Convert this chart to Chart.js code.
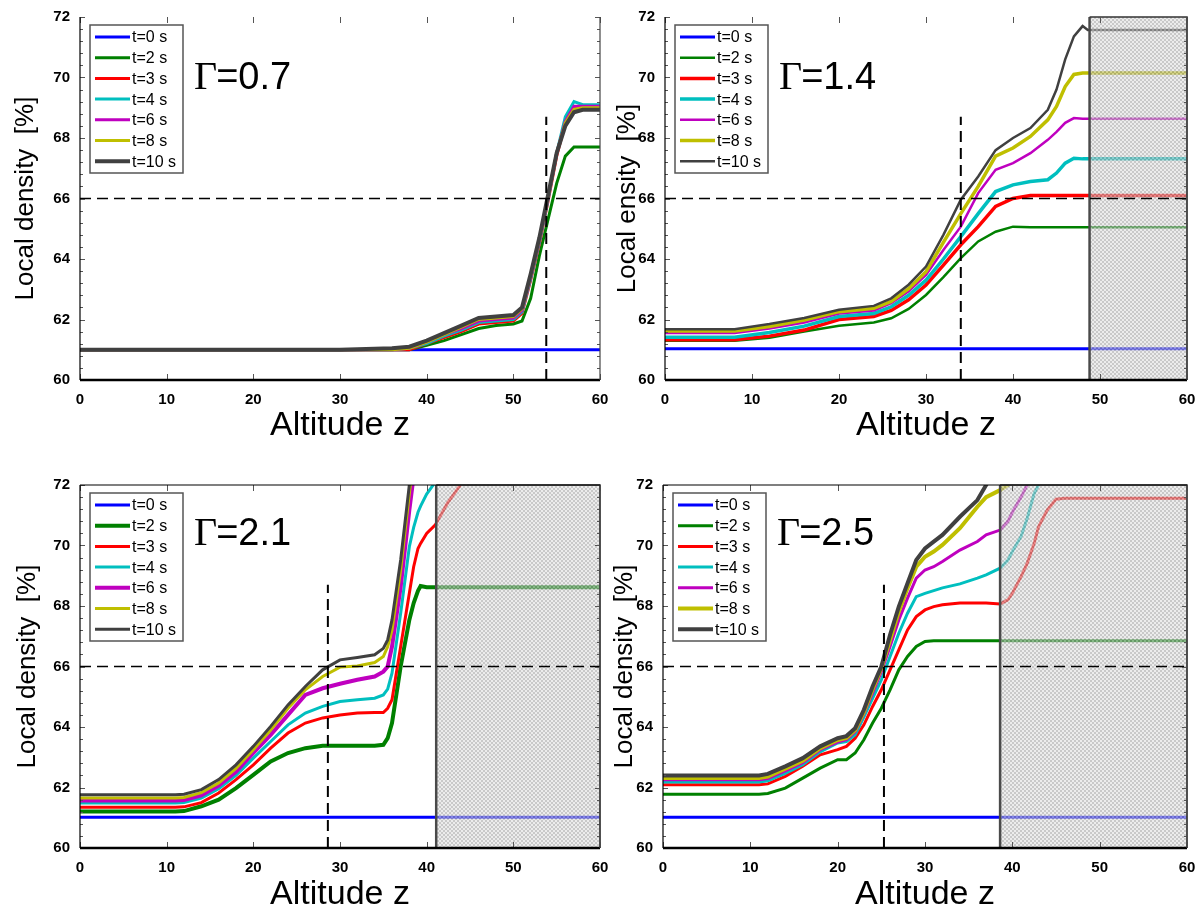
<!DOCTYPE html>
<html>
<head>
<meta charset="utf-8">
<script src="https://cdn.jsdelivr.net/npm/chart.js@4.4.0/dist/chart.umd.min.js"></script>
<style>
  body { margin: 0; background: #fff; width: 1202px; height: 915px; overflow: hidden; position: relative; }
  canvas { position: absolute; }
</style>
</head>
<body>
<canvas id="c1" width="612" height="450" style="left:0;top:0"></canvas>
<canvas id="c2" width="598" height="450" style="left:601px;top:0"></canvas>
<canvas id="c3" width="612" height="460" style="left:0;top:455px"></canvas>
<canvas id="c4" width="598" height="460" style="left:601px;top:455px"></canvas>
<script>
const seriesLabels = ['t=0 s', 't=2 s', 't=3 s', 't=4 s', 't=6 s', 't=8 s', 't=10 s'];
const seriesColors = ['#0000ff', '#008000', '#ff0000', '#00bfbf', '#bf00bf', '#bfbf00', '#404040'];
const xTicks = [0, 10, 20, 30, 40, 50, 60];
const threshold = 66;      // horizontal dashed line
const frontTop = 68.7;     // top of the vertical dashed line

// ---------- Γ=0.7 ----------
const zA = [0, 10, 20, 30, 36, 38, 40, 42, 44, 46, 48, 50, 51, 52, 53, 54, 55, 56, 57, 58, 60];
const aT0 = [61, 61, 61, 61, 61, 61, 61, 61, 61, 61, 61, 61, 61, 61, 61, 61, 61, 61, 61, 61, 61];
const aT2 = [61.0, 61.0, 61.0, 61.0, 61.0, 61.0, 61.15, 61.3, 61.5, 61.7, 61.8, 61.85, 61.95, 62.7, 64.1, 65.3, 66.5, 67.4, 67.7, 67.7, 67.7];
const aT3 = [61.0, 61.0, 61.0, 61.0, 61.0, 61.0, 61.2, 61.4, 61.6, 61.85, 61.9, 61.95, 62.2, 63.3, 64.5, 65.9, 67.4, 68.5, 69.0, 69.05, 69.05];
const aT4 = [61.0, 61.0, 61.0, 61.0, 61.0, 61.05, 61.2, 61.45, 61.65, 61.9, 61.95, 62.0, 62.25, 63.35, 64.55, 65.95, 67.5, 68.7, 69.2, 69.1, 69.1];
const aT6 = [61.0, 61.0, 61.0, 61.0, 61.0, 61.05, 61.25, 61.5, 61.7, 61.95, 62.0, 62.05, 62.3, 63.4, 64.6, 66.0, 67.5, 68.55, 69.05, 69.05, 69.05];
const aT8 = [61.0, 61.0, 61.0, 61.0, 61.0, 61.05, 61.25, 61.5, 61.75, 62.0, 62.05, 62.1, 62.35, 63.45, 64.65, 66.05, 67.5, 68.5, 68.95, 69.0, 69.0];
const aT10 = [61.0, 61.0, 61.0, 61.0, 61.05, 61.1, 61.3, 61.55, 61.8, 62.05, 62.1, 62.15, 62.4, 63.5, 64.7, 66.1, 67.5, 68.4, 68.85, 68.93, 68.93];

// ---------- Γ=1.4 ----------
const zB = [0, 8, 12, 16, 20, 24, 26, 28, 30, 32, 34, 36, 38, 40, 42, 44, 45, 46, 47, 48, 48.6, 60];
const bT0 = [61.03, 61.03, 61.03, 61.03, 61.03, 61.03, 61.03, 61.03, 61.03, 61.03, 61.03, 61.03, 61.03, 61.03, 61.03, 61.03, 61.03, 61.03, 61.03, 61.03, 61.03, 61.03];
const bT2 = [61.3, 61.3, 61.4, 61.6, 61.79, 61.9, 62.04, 62.35, 62.81, 63.4, 64.03, 64.58, 64.9, 65.07, 65.05, 65.05, 65.05, 65.05, 65.05, 65.05, 65.05, 65.05];
const bT3 = [61.33, 61.33, 61.45, 61.65, 62.0, 62.1, 62.3, 62.65, 63.14, 63.8, 64.47, 65.07, 65.74, 66.0, 66.1, 66.1, 66.1, 66.1, 66.1, 66.1, 66.1, 66.1];
const bT4 = [61.41, 61.41, 61.57, 61.78, 62.1, 62.2, 62.42, 62.8, 63.3, 64.0, 64.74, 65.5, 66.23, 66.45, 66.56, 66.62, 66.84, 67.17, 67.33, 67.31, 67.31, 67.31];
const bT6 = [61.55, 61.55, 61.7, 61.9, 62.2, 62.3, 62.54, 62.93, 63.47, 64.3, 65.07, 66.18, 66.95, 67.17, 67.5, 67.94, 68.2, 68.5, 68.66, 68.64, 68.64, 68.64];
const bT8 = [61.62, 61.62, 61.77, 61.98, 62.26, 62.37, 62.6, 63.02, 63.58, 64.55, 65.5, 66.4, 67.4, 67.67, 68.05, 68.6, 69.04, 69.7, 70.1, 70.15, 70.15, 70.15];
const bT10 = [61.68, 61.68, 61.85, 62.05, 62.32, 62.45, 62.7, 63.15, 63.75, 64.8, 65.96, 66.73, 67.6, 68.0, 68.33, 68.93, 69.6, 70.6, 71.36, 71.7, 71.57, 71.57];

// ---------- Γ=2.1 ----------
const zC = [0, 11, 12, 14, 16, 18, 20, 22, 24, 26, 28, 30, 32, 34, 35, 35.5, 36, 37, 38, 38.5, 39, 39.3, 40, 41, 42.4, 43.9, 60];
const cT0 = [61.02, 61.02, 61.02, 61.02, 61.02, 61.02, 61.02, 61.02, 61.02, 61.02, 61.02, 61.02, 61.02, 61.02, 61.02, 61.02, 61.02, 61.02, 61.02, 61.02, 61.02, 61.02, 61.02, 61.02, 61.02, 61.02, 61.02];
const cT2 = [61.21, 61.21, 61.22, 61.38, 61.6, 61.98, 62.42, 62.86, 63.14, 63.3, 63.38, 63.38, 63.38, 63.38, 63.41, 63.63, 64.13, 66.0, 67.54, 68.1, 68.5, 68.66, 68.62, 68.62, 68.62, 68.62, 68.62];
const cT3 = [61.35, 61.35, 61.36, 61.5, 61.82, 62.26, 62.75, 63.3, 63.8, 64.13, 64.3, 64.4, 64.46, 64.48, 64.48, 64.62, 64.9, 66.66, 68.42, 69.3, 69.9, 70.07, 70.4, 70.68, 71.4, 72.0, null];
const cT4 = [61.49, 61.49, 61.5, 61.65, 61.96, 62.4, 62.97, 63.52, 64.07, 64.46, 64.68, 64.84, 64.9, 64.95, 65.06, 65.25, 65.78, 67.76, 69.96, 70.6, 71.1, 71.3, 71.7, 72.1, null, null, null];
const cT6 = [61.57, 61.57, 61.59, 61.74, 62.06, 62.52, 63.14, 63.74, 64.4, 65.06, 65.28, 65.43, 65.56, 65.67, 65.83, 66.0, 66.66, 68.64, 71.17, 72.3, null, null, null, null, null, null, null];
const cT8 = [61.65, 61.65, 61.67, 61.83, 62.15, 62.63, 63.25, 63.9, 64.62, 65.23, 65.67, 65.98, 66.02, 66.13, 66.33, 66.65, 67.2, 69.2, 71.72, 72.9, null, null, null, null, null, null, null];
const cT10 = [61.76, 61.76, 61.78, 61.93, 62.26, 62.75, 63.36, 64.02, 64.73, 65.34, 65.89, 66.22, 66.3, 66.39, 66.6, 66.88, 67.54, 69.52, 72.0, 73.2, null, null, null, null, null, null, null];

// ---------- Γ=2.5 ----------
const zD = [0, 11, 12, 14, 16, 18, 20, 21, 22, 23, 24, 25, 26, 27, 28, 29, 30, 31, 32, 34, 36, 37, 38.6, 39.5, 40, 41, 41.7, 42.5, 43, 44, 45, 46, 60];
const dT0 = [61.02, 61.02, 61.02, 61.02, 61.02, 61.02, 61.02, 61.02, 61.02, 61.02, 61.02, 61.02, 61.02, 61.02, 61.02, 61.02, 61.02, 61.02, 61.02, 61.02, 61.02, 61.02, 61.02, 61.02, 61.02, 61.02, 61.02, 61.02, 61.02, 61.02, 61.02, 61.02, 61.02];
const dT2 = [61.78, 61.78, 61.8, 61.98, 62.31, 62.64, 62.92, 62.92, 63.14, 63.58, 64.13, 64.62, 65.23, 65.89, 66.33, 66.66, 66.83, 66.85, 66.85, 66.85, 66.85, 66.85, 66.85, 66.85, 66.85, 66.85, 66.85, 66.85, 66.85, 66.85, 66.85, 66.85, 66.85];
const dT3 = [62.09, 62.09, 62.12, 62.37, 62.7, 63.08, 63.25, 63.36, 63.63, 64.07, 64.68, 65.23, 65.89, 66.55, 67.21, 67.65, 67.87, 67.98, 68.04, 68.1, 68.1, 68.1, 68.07, 68.2, 68.42, 68.97, 69.41, 70.07, 70.62, 71.17, 71.53, 71.56, 71.56];
const dT4 = [62.18, 62.18, 62.22, 62.47, 62.75, 63.18, 63.47, 63.52, 63.74, 64.33, 64.95, 65.56, 66.33, 67.1, 67.76, 68.31, 68.42, 68.51, 68.6, 68.73, 68.92, 69.03, 69.25, 69.52, 69.8, 70.3, 70.9, 71.72, 72.0, 72.8, null, null, null];
const dT6 = [62.26, 62.26, 62.3, 62.55, 62.82, 63.25, 63.5, 63.58, 63.84, 64.43, 65.12, 65.83, 66.66, 67.54, 68.26, 68.92, 69.19, 69.3, 69.47, 69.85, 70.13, 70.35, 70.51, 70.8, 71.1, 71.6, 72.0, 72.6, null, null, null, null, null];
const dT8 = [62.31, 62.31, 62.36, 62.62, 62.88, 63.3, 63.57, 63.64, 63.9, 64.5, 65.25, 65.95, 66.88, 67.82, 68.59, 69.3, 69.63, 69.8, 70.02, 70.57, 71.28, 71.6, 71.83, 72.0, 72.3, null, null, null, null, null, null, null, null];
const dT10 = [62.4, 62.4, 62.45, 62.7, 62.97, 63.36, 63.63, 63.7, 63.96, 64.57, 65.34, 66.0, 67.05, 67.98, 68.75, 69.52, 69.9, 70.13, 70.35, 70.95, 71.5, 72.0, 72.8, null, null, null, null, null, null, null, null, null, null];

// layout / style of the four panels
const panels = [
  { canvas: 'c1', gamma: '=0.7', z: zA, ys: [aT0, aT2, aT3, aT4, aT6, aT8, aT10], front: 53.8, shade: null,
    yTitle: 'Local density  [%]', yWidth: 80, padTop: 17, xHeight: 70, xTitlePad: 4, yTitlePad: 10, topBorder: false,
    widths: [3, 3, 3, 3, 3, 3, 4] },
  { canvas: 'c2', gamma: '=1.4', z: zB, ys: [bT0, bT2, bT3, bT4, bT6, bT8, bT10], front: 34, shade: 48.8,
    yTitle: 'Local ensity  [%]', yWidth: 64, padTop: 17, xHeight: 70, xTitlePad: 4, yTitlePad: 11, topBorder: false,
    widths: [3, 2.5, 3.5, 3.5, 2.5, 3.5, 2.5] },
  { canvas: 'c3', gamma: '=2.1', z: zC, ys: [cT0, cT2, cT3, cT4, cT6, cT8, cT10], front: 28.6, shade: 41.1,
    yTitle: 'Local density  [%]', yWidth: 80, padTop: 30, xHeight: 67, xTitlePad: 0, yTitlePad: 12, topBorder: true,
    widths: [3, 4, 3, 3, 4, 3, 3] },
  { canvas: 'c4', gamma: '=2.5', z: zD, ys: [dT0, dT2, dT3, dT4, dT6, dT8, dT10], front: 25.3, shade: 38.6,
    yTitle: 'Local density  [%]', yWidth: 62, padTop: 30, xHeight: 67, xTitlePad: 0, yTitlePad: 8, topBorder: true,
    widths: [3, 3, 3, 3, 3, 4, 4] }
];

const SANS = '"Liberation Sans", Arial, sans-serif';
const SERIF = '"Liberation Serif", "Times New Roman", serif';

function isMajor(v) { return Math.abs(v / 2 - Math.round(v / 2)) < 1e-6; }

function hatchPattern(ctx) {
  const c = document.createElement('canvas');
  c.width = 4; c.height = 4;
  const g = c.getContext('2d');
  g.fillStyle = '#e0e0e0';
  g.fillRect(0, 0, 4, 4);
  g.fillStyle = '#a6a6a6';
  for (let i = 0; i < 4; i++) { g.fillRect(i, i, 1, 1); g.fillRect(3 - i, i, 1, 1); }
  return ctx.createPattern(c, 'repeat');
}

function drawShade(chart, p) {
  if (p.shade == null) return;
  const ctx = chart.ctx, ca = chart.chartArea;
  const x0 = chart.scales.x.getPixelForValue(p.shade);
  ctx.save();
  ctx.globalAlpha = 0.6;
  ctx.fillStyle = hatchPattern(ctx);
  ctx.fillRect(x0, ca.top, ca.right - x0, ca.bottom - ca.top);
  ctx.globalAlpha = 1;
  ctx.strokeStyle = '#4a4a4a';
  ctx.lineWidth = 2.5;
  ctx.beginPath(); ctx.moveTo(x0, ca.top); ctx.lineTo(x0, ca.bottom); ctx.stroke();
  ctx.lineWidth = 1.5; ctx.strokeStyle = '#333';
  ctx.beginPath(); ctx.moveTo(x0, ca.top); ctx.lineTo(ca.right, ca.top); ctx.lineTo(ca.right, ca.bottom); ctx.stroke();
  ctx.restore();
}

function drawFrame(chart, p) {
  const ctx = chart.ctx, ca = chart.chartArea;
  const xs = chart.scales.x, ys = chart.scales.y;
  ctx.save();
  // ticks pointing inward
  ctx.strokeStyle = '#555';
  ctx.lineWidth = 1;
  ys.ticks.forEach(t => {
    const py = Math.round(ys.getPixelForValue(t.value)) + 0.5;
    const len = isMajor(t.value) ? 5 : 3;
    ctx.beginPath();
    ctx.moveTo(ca.left, py); ctx.lineTo(ca.left + len, py);
    ctx.moveTo(ca.right - len, py); ctx.lineTo(ca.right, py);
    ctx.stroke();
  });
  xs.ticks.forEach(t => {
    const px = Math.round(xs.getPixelForValue(t.value)) + 0.5;
    ctx.beginPath();
    ctx.moveTo(px, ca.bottom); ctx.lineTo(px, ca.bottom - 6);
    ctx.moveTo(px, ca.top); ctx.lineTo(px, ca.top + 6);
    ctx.stroke();
  });
  // axes box
  ctx.strokeStyle = '#000';
  ctx.lineWidth = 2.5;
  ctx.beginPath(); ctx.moveTo(ca.left, ca.bottom); ctx.lineTo(ca.right, ca.bottom); ctx.stroke();
  ctx.lineWidth = 1.2;
  ctx.beginPath(); ctx.moveTo(ca.left, ca.top); ctx.lineTo(ca.left, ca.bottom); ctx.stroke();
  ctx.strokeStyle = '#444';
  ctx.beginPath(); ctx.moveTo(ca.right, ca.top); ctx.lineTo(ca.right, ca.bottom); ctx.stroke();
  if (p.topBorder) {
    ctx.strokeStyle = '#000';
    ctx.beginPath(); ctx.moveTo(ca.left, ca.top); ctx.lineTo(ca.right, ca.top); ctx.stroke();
  }
  ctx.restore();
}

function drawLegend(chart) {
  const ctx = chart.ctx, ca = chart.chartArea;
  const bx = ca.left + 10, by = ca.top + 8, bw = 93, bh = 148;
  ctx.save();
  ctx.fillStyle = '#fff';
  ctx.fillRect(bx, by, bw, bh);
  ctx.strokeStyle = '#555';
  ctx.lineWidth = 1.5;
  ctx.strokeRect(bx, by, bw, bh);
  ctx.font = '16px ' + SANS;
  ctx.textBaseline = 'middle';
  ctx.fillStyle = '#000';
  chart.data.datasets.slice(0, seriesLabels.length).forEach((ds, i) => {
    const y = by + 12 + i * 20.7;
    ctx.strokeStyle = ds.borderColor;
    ctx.lineWidth = ds.borderWidth;
    ctx.beginPath(); ctx.moveTo(bx + 5, y); ctx.lineTo(bx + 40, y); ctx.stroke();
    ctx.fillText(ds.label, bx + 42, y + 1);
  });
  ctx.restore();
}

function drawGamma(chart, p) {
  const ctx = chart.ctx, ca = chart.chartArea;
  const x = ca.left + 114, y = ca.top + (p.topBorder ? 60 : 72);
  ctx.save();
  ctx.fillStyle = '#000';
  ctx.textBaseline = 'alphabetic';
  ctx.font = '40px ' + SERIF;
  ctx.fillText('\u0393', x, y);
  const w = ctx.measureText('\u0393').width;
  ctx.font = '38px ' + SANS;
  ctx.fillText(p.gamma, x + w - 1, y);
  ctx.restore();
}

function decoPlugin(p) {
  return {
    id: 'deco',
    beforeDatasetsDraw(chart) { chart.$shadeDone = false; },
    beforeDatasetDraw(chart, args) {
      const ds = chart.data.datasets[args.index];
      if (ds.isRef && !chart.$shadeDone) { drawShade(chart, p); chart.$shadeDone = true; }
    },
    afterDatasetsDraw(chart) {
      drawFrame(chart, p);
      drawLegend(chart, p);
      drawGamma(chart, p);
    }
  };
}

panels.forEach(p => {
  const datasets = p.ys.map((vals, i) => ({
    label: seriesLabels[i],
    data: p.z.map((x, j) => ({ x: x, y: vals[j] })),
    borderColor: seriesColors[i],
    borderWidth: p.widths[i],
    pointRadius: 0,
    tension: 0,
    spanGaps: false,
    clip: 0,
    order: 10 - i
  }));
  datasets.push({
    label: 'threshold', isRef: true,
    data: [{ x: xTicks[0], y: threshold }, { x: xTicks[xTicks.length - 1], y: threshold }],
    borderColor: '#000', borderWidth: 1.5, borderDash: [11, 6], pointRadius: 0, clip: 0, order: 0
  });
  datasets.push({
    label: 'front', isRef: true,
    data: [{ x: p.front, y: 60 }, { x: p.front, y: frontTop }],
    borderColor: '#000', borderWidth: 2, borderDash: [11, 6], pointRadius: 0, clip: 0, order: 0
  });

  new Chart(document.getElementById(p.canvas), {
    type: 'line',
    data: { datasets: datasets },
    plugins: [decoPlugin(p)],
    options: {
      responsive: false,
      animation: false,
      devicePixelRatio: 1,
      layout: { padding: { top: p.padTop, right: 12, bottom: 0, left: 0 } },
      plugins: { legend: { display: false }, tooltip: { enabled: false } },
      scales: {
        x: {
          type: 'linear', min: 0, max: 60,
          afterFit: s => { s.height = p.xHeight; },
          grid: { display: false },
          border: { display: false },
          ticks: { stepSize: 10, padding: 3, color: '#000', font: { family: SANS, size: 15, weight: 'bold' } },
          title: { display: true, text: 'Altitude z', color: '#000', font: { family: SANS, size: 34 },
                   padding: { top: 0, bottom: p.xTitlePad } }
        },
        y: {
          min: 60, max: 72,
          afterFit: s => { s.width = p.yWidth; },
          grid: { display: false },
          border: { display: false },
          ticks: {
            stepSize: 0.4, autoSkip: false, padding: 2, color: '#000',
            font: { family: SANS, size: 15, weight: 'bold' },
            callback: v => isMajor(v) ? String(Math.round(v)) : ''
          },
          title: { display: true, text: p.yTitle, color: '#000', font: { family: SANS, size: 26 },
                   padding: { top: p.yTitlePad, bottom: 0 } }
        }
      }
    }
  });
});
</script>
</body>
</html>
